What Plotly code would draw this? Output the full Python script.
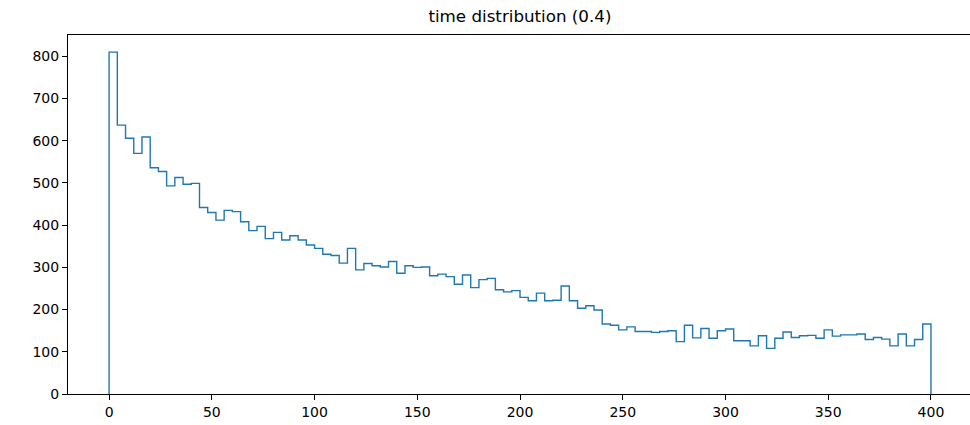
import numpy as np
import plotly.graph_objects as go

# histogram: 100 bins of width 4 over [0, 400]
bin_start = 0
bin_width = 4
counts = [
    810, 637, 606, 570, 609, 536, 527, 493, 513, 497,
    499, 442, 430, 412, 435, 432, 408, 387, 397, 368,
    383, 365, 375, 365, 353, 345, 331, 328, 310, 345,
    294, 309, 304, 301, 314, 286, 304, 300, 301, 280,
    284, 278, 260, 282, 252, 271, 274, 247, 242, 245,
    229, 221, 239, 221, 222, 256, 221, 203, 209, 199,
    166, 163, 152, 159, 148, 148, 146, 148, 150, 124,
    163, 133, 155, 132, 150, 154, 126, 126, 114, 138,
    108, 132, 147, 134, 138, 139, 132, 152, 137, 140,
    140, 142, 129, 134, 130, 114, 142, 114, 129, 166,
]
x_ticks = [0, 50, 100, 150, 200, 250, 300, 350, 400]
y_ticks = [0, 100, 200, 300, 400, 500, 600, 700, 800]
title = "time distribution (0.4)"

edges = bin_start + bin_width * np.arange(len(counts) + 1)
xs = np.concatenate([[edges[0]], edges, [edges[-1]]])
ys = np.concatenate([[0], counts, [counts[-1]], [0]])

fig = go.Figure()
fig.add_trace(go.Scatter(
    x=xs, y=ys, mode="lines", line_shape="hv",
    line=dict(color="#1f77b4", width=1.4),
    hoverinfo="skip", showlegend=False,
))

span = edges[-1] - edges[0]
ymax = max(counts)
axis_common = dict(
    showgrid=False, zeroline=False, showline=True, linecolor="black",
    linewidth=1.1, ticks="outside", ticklen=5, tickwidth=1.1,
    tickcolor="black", tickfont=dict(family="DejaVu Sans", size=14, color="black"),
)
fig.update_layout(
    width=970, height=425,
    margin=dict(l=68, r=0, t=35, b=31),
    paper_bgcolor="white", plot_bgcolor="white",
    title=dict(text=title, x=0.536, xanchor="center", y=0.962, yanchor="middle",
               font=dict(family="DejaVu Sans", size=16.7, color="black")),
    xaxis=dict(range=[edges[0] - 0.05 * span, edges[-1] + 0.0475 * span],
               tickvals=x_ticks, mirror=True, **axis_common),
    yaxis=dict(range=[0, ymax * 1.05], tickvals=y_ticks, mirror=False, **axis_common),
)
fig.write_html("out.html")
